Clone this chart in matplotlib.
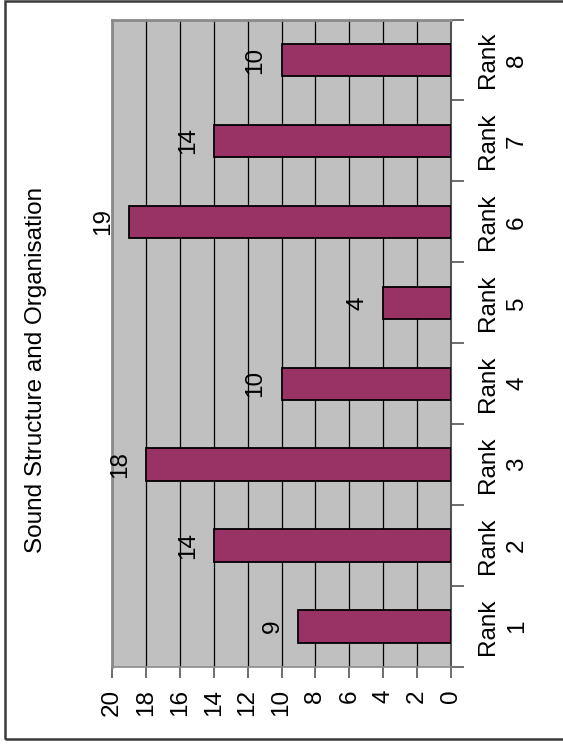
import matplotlib
matplotlib.use("Agg")
import matplotlib.pyplot as plt
from matplotlib.patches import Rectangle
from matplotlib.ticker import FixedLocator

plt.rcParams['font.family'] = ['Liberation Sans', 'DejaVu Sans']

# Chart data
categories = ["Rank\n1", "Rank\n2", "Rank\n3", "Rank\n4", "Rank\n5", "Rank\n6", "Rank\n7", "Rank\n8"]
values = [9, 14, 18, 10, 4, 19, 14, 10]
value_ticks = [0, 2, 4, 6, 8, 10, 12, 14, 16, 18, 20]
title = "Sound Structure and Organisation"

W, H = 563, 750
fig = plt.figure(figsize=(W / 100, H / 100), dpi=100)

# Outer chart frame
fig.patches.append(Rectangle((5 / W, 1 - 739 / H), 1.2, (739 - 1) / H,
                             transform=fig.transFigure, fill=False,
                             edgecolor="#3a3a3a", linewidth=1.8, zorder=0))

ax = fig.add_axes([112 / W, 1 - 667 / H, (451 - 112) / W, (667 - 19.5) / H])
ax.set_facecolor("#C0C0C0")

pos = list(range(len(categories)))
ax.barh(pos, values, height=0.4, color="#993366", edgecolor="black",
        linewidth=1.3, zorder=3)

ax.set_xlim(20, 0)
ax.set_ylim(-0.5, len(categories) - 0.5)

# Value axis (drawn along the bottom, reversed)
ax.set_xticks(value_ticks)
ax.set_xticklabels([str(v) for v in value_ticks], rotation=90, fontsize=17.5,
                   va="top", ha="center")
ax.tick_params(axis="x", direction="out", length=8, width=1.2,
               color="#555555", pad=8)
ax.xaxis.grid(True, color="black", linewidth=0.9, zorder=1)
ax.set_axisbelow(True)

# Category axis on the right, tick marks between categories
ax.yaxis.tick_right()
ax.set_yticks(pos)
ax.set_yticklabels(categories, rotation=90, fontsize=17.5, ha="left",
                   va="center", multialignment="center", linespacing=1.4)
ax.tick_params(axis="y", which="major", length=0, pad=19)
ax.yaxis.set_minor_locator(FixedLocator([p - 0.5 for p in pos] + [pos[-1] + 0.5]))
ax.tick_params(axis="y", which="minor", direction="out", length=9, width=1.2,
               color="#555555", right=True, left=False)

for side in ("left", "top"):
    ax.spines[side].set_color("#8a8a8a")
    ax.spines[side].set_linewidth(2.0)
ax.spines["bottom"].set_color("#8a8a8a")
ax.spines["bottom"].set_linewidth(1.2)
ax.spines["right"].set_color("#555555")
ax.spines["right"].set_linewidth(1.5)

# Value labels beyond the end of each bar
for p, v in zip(pos, values):
    ax.annotate(str(v), xy=(v, p), xytext=(-15, 0), textcoords="offset pixels",
                rotation=90, ha="right", va="center", fontsize=17.5, zorder=4)

fig.text(36 / W, 1 - 370 / H, title, rotation=90, ha="center", va="center",
         fontsize=17.5)

fig.savefig("out.png", dpi=100)
